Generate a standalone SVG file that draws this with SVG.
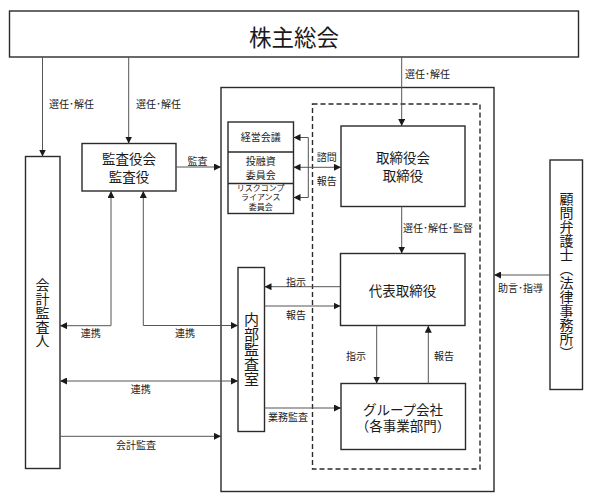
<svg xmlns="http://www.w3.org/2000/svg" width="602" height="501" viewBox="0 0 602 501">
<defs>
<style>
.box{fill:#fff;stroke:#2a2a2a;stroke-width:1.4}
.frame{fill:none;stroke:#2a2a2a;stroke-width:1.4}
.dash{fill:none;stroke:#2a2a2a;stroke-width:1.4;stroke-dasharray:5,3}
.ln{fill:none;stroke:#555;stroke-width:1}
text{font-family:"Noto Sans CJK JP","Noto Sans CJK SC",sans-serif;fill:#1a1a1a}
.lbl{font-size:10px}
.big{font-size:13.5px;text-anchor:middle}
.vt{writing-mode:vertical-rl;text-anchor:middle}
</style>
<marker id="ah" viewBox="0 0 10 10" refX="10" refY="5" markerWidth="7" markerHeight="7" markerUnits="userSpaceOnUse" orient="auto-start-reverse">
<path d="M0,0 L10,5 L0,10 z" fill="#1a1a1a"/>
</marker>
</defs>

<g id="frames">
<rect class="frame" x="221" y="87.5" width="273" height="404"/>
<rect class="dash" x="312.5" y="104" width="167.5" height="365"/>
</g>

<g id="shareholders">
<rect class="box" x="9.5" y="11" width="569" height="46"/>
<text x="294" y="36" font-size="22.5" text-anchor="middle" dominant-baseline="central">株主総会</text>
</g>

<g id="accounting-auditor">
<rect class="box" x="25.5" y="156.5" width="34.5" height="312"/>
<text class="vt" x="42.5" y="312.5" font-size="14">会計監査人</text>
</g>

<g id="audit-board">
<rect class="box" x="82" y="143.5" width="94" height="47.5"/>
<text class="big" x="129" y="164.3"><tspan x="129">監査役会</tspan><tspan x="129" dy="17.5">監査役</tspan></text>
</g>

<g id="committees">
<rect class="box" x="228" y="122" width="65.5" height="91.5"/>
<line class="frame" x1="228" y1="152" x2="293.5" y2="152"/>
<line class="frame" x1="228" y1="183.5" x2="293.5" y2="183.5"/>
<text x="260.7" y="141" font-size="10" text-anchor="middle">経営会議</text>
<text x="260.7" y="165" font-size="10" text-anchor="middle"><tspan x="260.7">投融資</tspan><tspan x="260.7" dy="13.5">委員会</tspan></text>
<text x="260.7" y="190.8" font-size="8" text-anchor="middle"><tspan x="260.7">リスクコンプ</tspan><tspan x="260.7" dy="9.5">ライアンス</tspan><tspan x="260.7" dy="9.5">委員会</tspan></text>
</g>

<g id="board">
<rect class="box" x="341" y="126" width="124" height="80.5"/>
<text class="big" x="403" y="163.3"><tspan x="403">取締役会</tspan><tspan x="403" dy="17.5">取締役</tspan></text>
</g>

<g id="representative">
<rect class="box" x="340.5" y="253.5" width="124.5" height="72"/>
<text class="big" x="402.5" y="290" dominant-baseline="central">代表取締役</text>
</g>

<g id="internal-audit">
<rect class="box" x="238" y="267.5" width="26.5" height="164"/>
<text class="vt" x="251.5" y="349" font-size="15">内部監査室</text>
</g>

<g id="group">
<rect class="box" x="341" y="383.5" width="124.5" height="66"/>
<text class="big" x="403" y="414.8"><tspan x="403">グループ会社</tspan><tspan x="403" dy="16">（各事業部門）</tspan></text>
</g>

<g id="lawyer">
<rect class="box" x="550" y="160" width="32.5" height="229.5"/>
<text class="vt" x="566.5" y="275.5" font-size="14">顧問弁護士（法律事務所）</text>
</g>

<g id="connectors">
<line class="ln" x1="42.5" y1="57" x2="42.5" y2="156.5" marker-end="url(#ah)"/>
<line class="ln" x1="128.7" y1="57" x2="128.7" y2="143.5" marker-end="url(#ah)"/>
<line class="ln" x1="401.7" y1="57" x2="401.7" y2="126" marker-end="url(#ah)"/>
<line class="ln" x1="176" y1="167" x2="221" y2="167" marker-end="url(#ah)"/>
<polyline class="ln" points="308.3,137.5 293.5,137.5" marker-end="url(#ah)"/>
<polyline class="ln" points="308.3,137.5 308.3,197.5 293.5,197.5" marker-end="url(#ah)"/>
<line class="ln" x1="293.5" y1="167.3" x2="341" y2="167.3" marker-start="url(#ah)" marker-end="url(#ah)"/>
<line class="ln" x1="401.7" y1="206.5" x2="401.7" y2="253.5" marker-end="url(#ah)"/>
<polyline class="ln" points="111,191 111,325.7 60,325.7" marker-start="url(#ah)" marker-end="url(#ah)"/>
<polyline class="ln" points="143.3,191 143.3,325.5 238,325.5" marker-start="url(#ah)" marker-end="url(#ah)"/>
<line class="ln" x1="340.5" y1="286.7" x2="264.5" y2="286.7" marker-end="url(#ah)"/>
<line class="ln" x1="264.5" y1="306" x2="340.5" y2="306" marker-end="url(#ah)"/>
<line class="ln" x1="60" y1="381" x2="238" y2="381" marker-start="url(#ah)" marker-end="url(#ah)"/>
<line class="ln" x1="60" y1="436.3" x2="221" y2="436.3" marker-end="url(#ah)"/>
<line class="ln" x1="264.5" y1="408" x2="341" y2="408" marker-end="url(#ah)"/>
<line class="ln" x1="376.7" y1="325.7" x2="376.7" y2="383.5" marker-end="url(#ah)"/>
<line class="ln" x1="428.3" y1="383.5" x2="428.3" y2="325.7" marker-end="url(#ah)"/>
<line class="ln" x1="550" y1="275" x2="494" y2="275" marker-end="url(#ah)"/>
</g>

<g id="labels">
<text class="lbl" x="49" y="103.5" dominant-baseline="central">選任･解任</text>
<text class="lbl" x="136" y="103.5" dominant-baseline="central">選任･解任</text>
<text class="lbl" x="405" y="73" dominant-baseline="central">選任･解任</text>
<text class="lbl" x="197.5" y="160" text-anchor="middle" dominant-baseline="central">監査</text>
<text class="lbl" x="326.7" y="156" text-anchor="middle" dominant-baseline="central">諮問</text>
<text class="lbl" x="326.7" y="180" text-anchor="middle" dominant-baseline="central">報告</text>
<text class="lbl" x="403" y="227.7" dominant-baseline="central">選任･解任･監督</text>
<text class="lbl" x="90.7" y="332.5" text-anchor="middle" dominant-baseline="central">連携</text>
<text class="lbl" x="185" y="332.5" text-anchor="middle" dominant-baseline="central">連携</text>
<text class="lbl" x="296" y="281" text-anchor="middle" dominant-baseline="central">指示</text>
<text class="lbl" x="296" y="314" text-anchor="middle" dominant-baseline="central">報告</text>
<text class="lbl" x="356" y="355" text-anchor="middle" dominant-baseline="central">指示</text>
<text class="lbl" x="444" y="355" text-anchor="middle" dominant-baseline="central">報告</text>
<text class="lbl" x="140.7" y="388" text-anchor="middle" dominant-baseline="central">連携</text>
<text class="lbl" x="136" y="444.3" text-anchor="middle" dominant-baseline="central">会計監査</text>
<text class="lbl" x="288" y="416.5" text-anchor="middle" dominant-baseline="central">業務監査</text>
<text class="lbl" x="520.5" y="287.3" text-anchor="middle" dominant-baseline="central">助言･指導</text>
</g>
</svg>
